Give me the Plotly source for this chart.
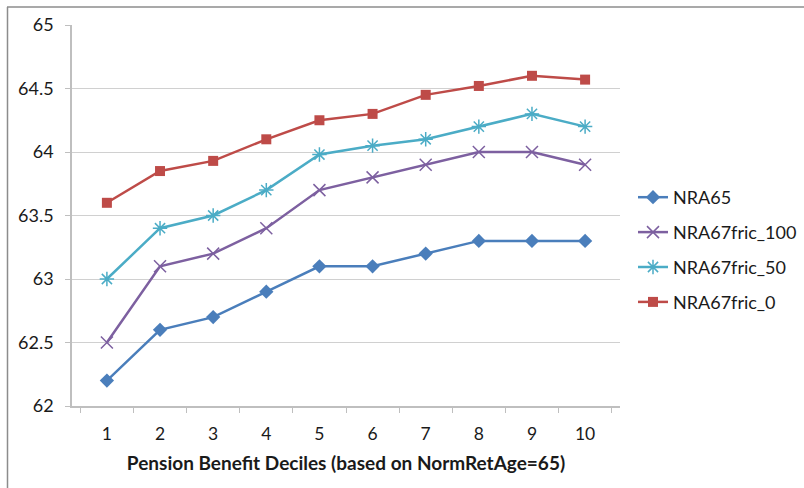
import plotly.graph_objects as go

deciles = ["1", "2", "3", "4", "5", "6", "7", "8", "9", "10"]
nra65 = [62.2, 62.6, 62.7, 62.9, 63.1, 63.1, 63.2, 63.3, 63.3, 63.3]
fric_100 = [62.5, 63.1, 63.2, 63.4, 63.7, 63.8, 63.9, 64.0, 64.0, 63.9]
fric_50 = [63.0, 63.4, 63.5, 63.7, 63.98, 64.05, 64.1, 64.2, 64.3, 64.2]
fric_0 = [63.6, 63.85, 63.93, 64.1, 64.25, 64.3, 64.45, 64.52, 64.6, 64.57]
y_ticks = [62, 62.5, 63, 63.5, 64, 64.5, 65]
y_ticktext = ["62", "62.5", "63", "63.5", "64", "64.5", "65"]

W, H = 804, 488
ml, mr, mt, mb = 72, 184, 25, 82
pw, ph = W - ml - mr, H - mt - mb

fig = go.Figure()
series = [
    ("NRA65", nra65, "#4A7EBB", dict(symbol="diamond", size=11)),
    ("NRA67fric_100", fric_100, "#7D60A0", dict(symbol="x-thin-open", size=12, line=dict(width=1.5, color="#7D60A0"))),
    ("NRA67fric_50", fric_50, "#4BACC6", dict(symbol="asterisk-open", size=12, line=dict(width=1.5, color="#4BACC6"))),
    ("NRA67fric_0", fric_0, "#BE4B48", dict(symbol="square", size=10)),
]
for name, vals, col, mk in series:
    fig.add_trace(go.Scatter(
        x=deciles, y=vals, name=name, mode="lines+markers",
        legendgroup=name,
        line=dict(color=col, width=2.5),
        marker=dict(color=col, **mk),
    ))

fig.update_layout(
    width=W, height=H,
    margin=dict(l=ml, r=mr, t=mt, b=mb, autoexpand=False),
    paper_bgcolor="white", plot_bgcolor="white",
    font=dict(family="Lato, Open Sans, sans-serif", color="#1a1a1a", size=17),
    showlegend=True,
    legend=dict(
        x=(633 - ml) / pw, xanchor="left",
        y=(H - mb - 250) / ph, yanchor="middle",
        xref="paper", yref="paper",
        font=dict(size=18, color="#1a1a1a"),
        itemwidth=30, tracegroupgap=8.5,
        bgcolor="rgba(0,0,0,0)",
    ),
    xaxis=dict(
        type="category", tickson="boundaries",
        ticks="outside", ticklen=5, tickcolor="#BFBFBF",
        showline=True, linecolor="#BFBFBF", linewidth=1.5,
        showgrid=False, zeroline=False,
        tickfont=dict(size=17.5), ticklabelstandoff=11,
        title=dict(text="<b>Pension Benefit Deciles (based on NormRetAge=65)</b>",
                   font=dict(size=19), standoff=14),
    ),
    yaxis=dict(
        range=[62, 65], tickvals=y_ticks, ticktext=y_ticktext,
        ticks="outside", ticklen=5, tickcolor="#BFBFBF",
        showline=True, linecolor="#BFBFBF", linewidth=1.5,
        showgrid=True, gridcolor="#D0D0D0", gridwidth=1.2,
        zeroline=False, tickfont=dict(size=18), ticklabelstandoff=8,
    ),
    shapes=[
        dict(type="line", xref="paper", yref="paper",
             x0=(7 - ml) / pw, x1=(W - ml) / pw,
             y0=(H - mb - 7) / ph, y1=(H - mb - 7) / ph,
             line=dict(color="#8C8C8C", width=1.5)),
        dict(type="line", xref="paper", yref="paper",
             x0=(7.5 - ml) / pw, x1=(7.5 - ml) / pw,
             y0=(H - mb - 7) / ph, y1=-(mb) / ph,
             line=dict(color="#8C8C8C", width=1.5)),
    ],
)

fig.write_html("out.html")
